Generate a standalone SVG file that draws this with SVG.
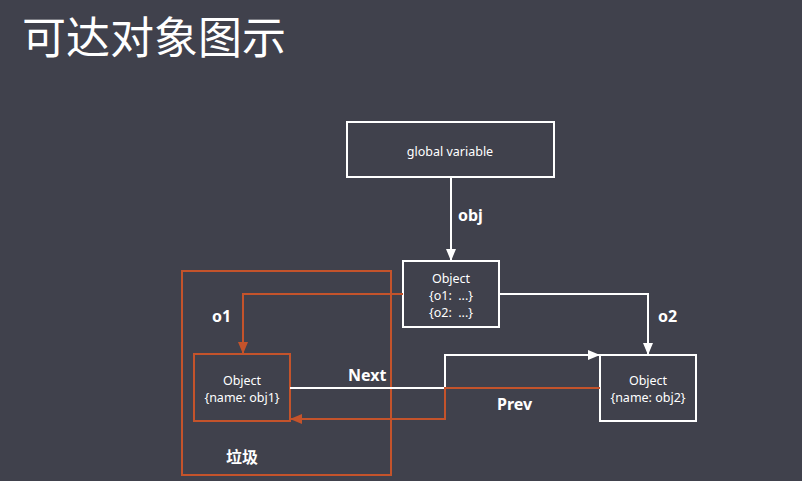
<svg xmlns="http://www.w3.org/2000/svg" width="802" height="481" viewBox="0 0 802 481">
  <style>
    .box { fill: none; stroke: #ffffff; stroke-width: 2; }
    .rbox { fill: none; stroke: #c4532b; stroke-width: 2; }
    .t { font-family: "Noto Sans", "Noto Sans CJK SC", sans-serif; fill: #ffffff; font-size: 12.5px; text-anchor: middle; white-space: pre; }
    .lbl { font-family: "Noto Sans", "Noto Sans CJK SC", sans-serif; fill: #ffffff; font-size: 16px; font-weight: bold; }
    .w { fill: none; stroke: #ffffff; stroke-width: 2; }
    .r { fill: none; stroke: #c4532b; stroke-width: 2; }
  </style>
  <defs>
    <marker id="aw" viewBox="0 0 12 10" refX="12" refY="5" markerWidth="12" markerHeight="10" markerUnits="userSpaceOnUse" orient="auto">
      <path d="M0,0 L12,5 L0,10 z" fill="#ffffff"/>
    </marker>
    <marker id="ar" viewBox="0 0 12 10" refX="12" refY="5" markerWidth="12" markerHeight="10" markerUnits="userSpaceOnUse" orient="auto">
      <path d="M0,0 L12,5 L0,10 z" fill="#c4532b"/>
    </marker>
  </defs>

  <rect width="802" height="481" fill="#40414c"/>

  <text x="22" y="54" font-family="Noto Sans CJK SC, sans-serif" font-size="44" fill="#ffffff">可达对象图示</text>

  <!-- garbage region -->
  <g id="garbage">
    <rect class="rbox" x="182" y="271" width="209" height="204"/>
    <text class="lbl" x="226" y="463">垃圾</text>
  </g>

  <g id="global">
    <rect class="box" x="347" y="122" width="207" height="55"/>
    <text class="t" x="450" y="156">global variable</text>
  </g>

  <g id="root-object">
    <rect class="box" x="403" y="261" width="96" height="66"/>
    <text class="t" x="451" y="283">Object</text>
    <text class="t" x="451" y="300">{o1:  ...}</text>
    <text class="t" x="451" y="317">{o2:  ...}</text>
  </g>

  <g id="obj1">
    <rect class="rbox" x="194" y="354" width="96" height="67"/>
    <text class="t" x="242" y="385">Object</text>
    <text class="t" x="242" y="402">{name: obj1}</text>
  </g>

  <g id="obj2">
    <rect class="box" x="600" y="355" width="96" height="66"/>
    <text class="t" x="648" y="385">Object</text>
    <text class="t" x="648" y="402">{name: obj2}</text>
  </g>

  <g id="connectors">
    <path class="w" d="M451,177 V261" marker-end="url(#aw)"/>
    <path class="r" d="M403,294 H243 V354" marker-end="url(#ar)"/>
    <path class="w" d="M499,294 H648 V355" marker-end="url(#aw)"/>
    <path class="w" d="M290,388 H445 V355 H600" marker-end="url(#aw)"/>
    <path class="r" d="M600,388 H445 V419 H290" marker-end="url(#ar)"/>
  </g>

  <g id="labels">
    <text class="lbl" x="458" y="221">obj</text>
    <text class="lbl" x="212" y="322">o1</text>
    <text class="lbl" x="658" y="322">o2</text>
    <text class="lbl" x="348" y="381">Next</text>
    <text class="lbl" x="497" y="410">Prev</text>
  </g>
</svg>
